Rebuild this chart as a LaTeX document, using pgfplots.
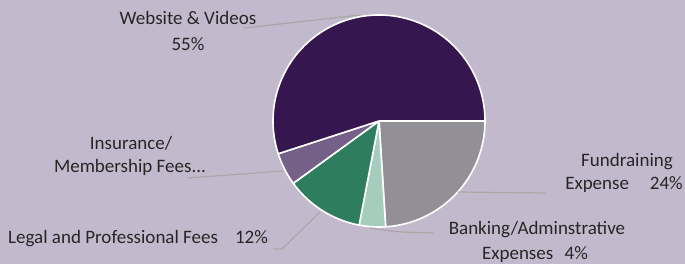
\documentclass[border=0pt]{standalone}
\usepackage{pgfplots}
\pgfplotsset{compat=1.18}
\usepackage{pgfplotstable}
\usepackage{fontspec}
\setmainfont{Carlito}
\definecolor{bg}{RGB}{194,186,204}
\definecolor{cweb}{RGB}{54,22,78}
\definecolor{cfund}{RGB}{147,143,150}
\definecolor{cbank}{RGB}{166,204,190}
\definecolor{clegal}{RGB}{46,125,94}
\definecolor{cins}{RGB}{117,96,138}
\definecolor{txt}{RGB}{38,38,38}
\definecolor{lead}{RGB}{168,168,168}

\pgfplotstableread{
name value
Fundraising 24
Banking 4
Legal 12
Insurance 5
Website 55
}\piedata

\pgfplotstablegetelem{0}{value}\of\piedata \let\vA\pgfplotsretval
\pgfplotstablegetelem{1}{value}\of\piedata \let\vB\pgfplotsretval
\pgfplotstablegetelem{2}{value}\of\piedata \let\vC\pgfplotsretval
\pgfplotstablegetelem{3}{value}\of\piedata \let\vD\pgfplotsretval
\pgfplotstablegetelem{4}{value}\of\piedata \let\vE\pgfplotsretval
\pgfmathsetmacro\aA{0}
\pgfmathsetmacro\aB{\aA-3.6*\vA}
\pgfmathsetmacro\aC{\aB-3.6*\vB}
\pgfmathsetmacro\aD{\aC-3.6*\vC}
\pgfmathsetmacro\aE{\aD-3.6*\vD}
\pgfmathsetmacro\aF{\aE-3.6*\vE}

\newcommand\cx{379}
\newcommand\cy{143}
\newcommand\rr{106}

\begin{document}
\begin{tikzpicture}[
  lab/.style={font=\fontsize{19}{23}\selectfont, text=txt, inner sep=0pt},
  slice/.style={draw=white, line width=1.6pt, line join=round},
]
\begin{axis}[
  width=685pt, height=264pt, scale only axis,
  xmin=0, xmax=685, ymin=0, ymax=264,
  hide axis, clip=false,
]
\fill[bg] (rel axis cs:0,0) rectangle (rel axis cs:1,1);

\addplot[slice, fill=cfund, domain=\aB:\aA, samples=90, variable=\t] ({\cx+\rr*cos(\t)},{\cy+\rr*sin(\t)}) -- (axis cs:\cx,\cy) -- cycle;
\addplot[slice, fill=cbank, domain=\aC:\aB, samples=20, variable=\t] ({\cx+\rr*cos(\t)},{\cy+\rr*sin(\t)}) -- (axis cs:\cx,\cy) -- cycle;
\addplot[slice, fill=clegal, domain=\aD:\aC, samples=40, variable=\t] ({\cx+\rr*cos(\t)},{\cy+\rr*sin(\t)}) -- (axis cs:\cx,\cy) -- cycle;
\addplot[slice, fill=cins, domain=\aE:\aD, samples=20, variable=\t] ({\cx+\rr*cos(\t)},{\cy+\rr*sin(\t)}) -- (axis cs:\cx,\cy) -- cycle;
\addplot[slice, fill=cweb, domain=\aF:\aE, samples=150, variable=\t] ({\cx+\rr*cos(\t)},{\cy+\rr*sin(\t)}) -- (axis cs:\cx,\cy) -- cycle;

% leader lines
\draw[lead, line width=1.2pt] (axis cs:244,236) -- (axis cs:360,249);
\draw[lead, line width=1.2pt] (axis cs:188,86) -- (axis cs:283,93);
\draw[lead, line width=1.2pt] (axis cs:273,15) -- (axis cs:282,15) -- (axis cs:320,52);
\draw[lead, line width=1.2pt] (axis cs:458,72) -- (axis cs:545,71);
\draw[lead, line width=1.2pt] (axis cs:370,36) .. controls (axis cs:395,32) .. (axis cs:433,31);

% labels
\node[lab, anchor=base] at (axis cs:188,239) {Website \& Videos};
\node[lab, anchor=base] at (axis cs:188,213) {55\%};
\node[lab, anchor=base] at (axis cs:131,114) {Insurance/};
\node[lab, anchor=base] at (axis cs:130,91) {Membership Fees...};
\node[lab, anchor=base west] at (axis cs:8,20) {Legal and Professional Fees\hspace{0.9em}12\%};
\node[lab, anchor=base] at (axis cs:627,97) {Fundraining};
\node[lab, anchor=base east] at (axis cs:683,74) {Expense\hspace{1.1em}24\%};
\node[lab, anchor=base] at (axis cs:537,29) {Banking/Adminstrative};
\node[lab, anchor=base] at (axis cs:535,4) {Expenses\hspace{0.6em}4\%};
\end{axis}
\end{tikzpicture}
\end{document}
